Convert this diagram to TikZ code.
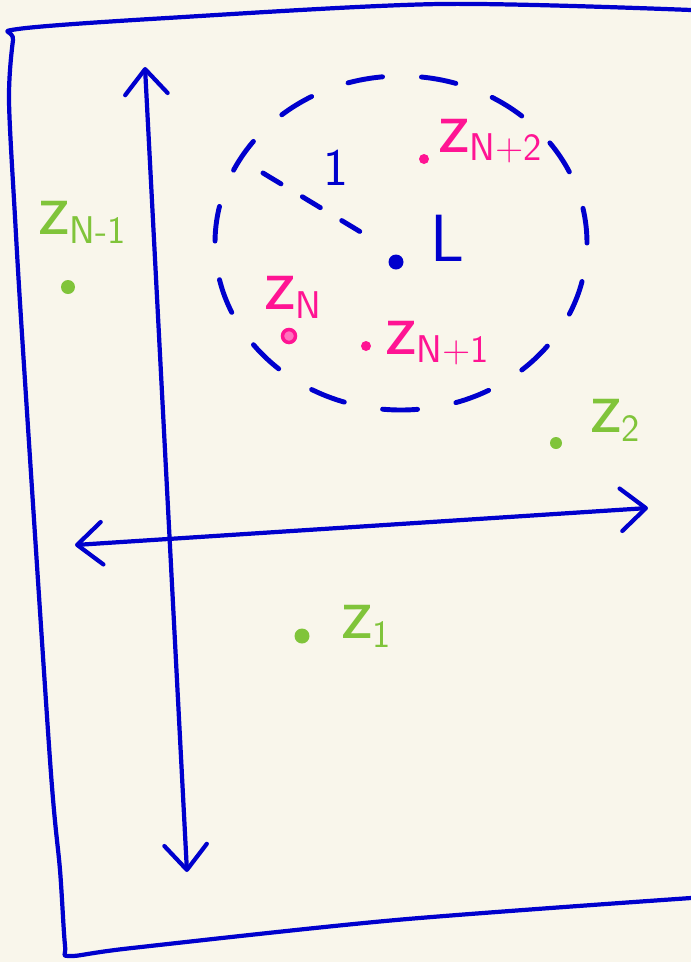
\documentclass[tikz,border=0pt]{standalone}
\usepackage{tikz}
\usetikzlibrary{arrows.meta,positioning}
\definecolor{penblue}{RGB}{0,0,205}
\definecolor{penpink}{RGB}{255,20,147}
\definecolor{pengreen}{RGB}{128,196,58}
\definecolor{paper}{RGB}{249,246,235}
\newcommand{\zlab}[1]{{\fontsize{44}{44}\selectfont z}\raisebox{-5pt}{\fontsize{22}{22}\selectfont #1}}
\tikzset{
    pen/.style={draw=penblue, line width=2.4pt, line cap=round, line join=round},
    axis/.style={pen, {Straight Barb[round,length=5mm,width=8.5mm]}-{Straight Barb[round,length=5mm,width=8.5mm]}},
    ring/.style={pen, line width=2.8pt, dash pattern=#1},
    dot/.style={circle, fill=#1, inner sep=0pt, minimum size=2.4mm},
    zlabel/.style={text=#1, font=\sffamily, inner sep=0pt},
}

\begin{document}
\begin{tikzpicture}
    \useasboundingbox (0,0) rectangle (13.82,-19.24);
    \fill[paper] (0,0) rectangle (13.82,-19.24);

    % frame
    \draw[pen] plot[smooth, tension=0.5] coordinates {
        (13.82,-0.2) (8.8,-0.08) (3.34,-0.36) (0.36,-0.58) (0.26,-0.8)
        (0.18,-2.0) (0.3,-4.34) (0.46,-7) (1.0,-15.2) (1.2,-17.4)
        (1.3,-18.9) (1.4,-19.12) (2.64,-18.96) (7.92,-18.4) (13.82,-17.96)};

    % axes
    \coordinate (vtop) at (2.9,-1.34);
    \coordinate (vbot) at (3.74,-17.44);
    \coordinate (hleft) at (1.5,-10.9);
    \coordinate (hright) at (12.96,-10.16);
    \draw[axis] (vtop) -- (vbot);
    \draw[axis] (hleft) -- (hright);

    % unit disc round L
    \draw[ring={on 0.7cm off 0.78cm}] (8.02,-4.86) ellipse [x radius=3.72, y radius=3.34];
    \node[dot=penblue, minimum size=3mm] (dL) at (7.92,-5.24) {};
    \coordinate (rim) at (5.26,-3.46);
    \coordinate (rend) at (7.28,-4.68);
    \draw[ring={on 0.42cm off 0.5cm}] (rim) -- (rend);
    \node[zlabel=penblue, font=\sffamily\fontsize{30}{30}\selectfont] (one) at (6.72,-3.36) {1};
    \node[zlabel=penblue, font=\sffamily\fontsize{38}{38}\selectfont] (lL) at (8.94,-4.76) {L};

    % points inside
    \node[dot=penpink, minimum size=2mm] (dN2) at (8.48,-3.18) {};
    \node[zlabel=penpink] (lN2) at (9.8,-2.82) {\zlab{N+2}};
    \node[dot=penpink, minimum size=2mm] (dN1) at (7.32,-6.92) {};
    \node[zlabel=penpink] (lN1) at (8.74,-6.86) {\zlab{N+1}};
    \node[circle, draw=penpink, fill=penpink!60, line width=2pt, inner sep=0pt, minimum size=2.6mm] (dN) at (5.78,-6.72) {};
    \node[zlabel=penpink] (lN) at (5.86,-5.94) {\zlab{N}};

    % points outside
    \node[dot=pengreen, minimum size=2.8mm] (dNm1) at (1.36,-5.74) {};
    \node[zlabel=pengreen] (lNm1) at (1.64,-4.44) {\zlab{N-1}};
    \node[dot=pengreen, minimum size=2.4mm] (d2) at (11.12,-8.86) {};
    \node[zlabel=pengreen] (l2) at (12.3,-8.4) {\zlab{2}};
    \node[dot=pengreen, minimum size=3mm] (d1) at (6.04,-12.72) {};
    \node[zlabel=pengreen] (l1) at (7.32,-12.52) {\zlab{1}};
\end{tikzpicture}
\end{document}
